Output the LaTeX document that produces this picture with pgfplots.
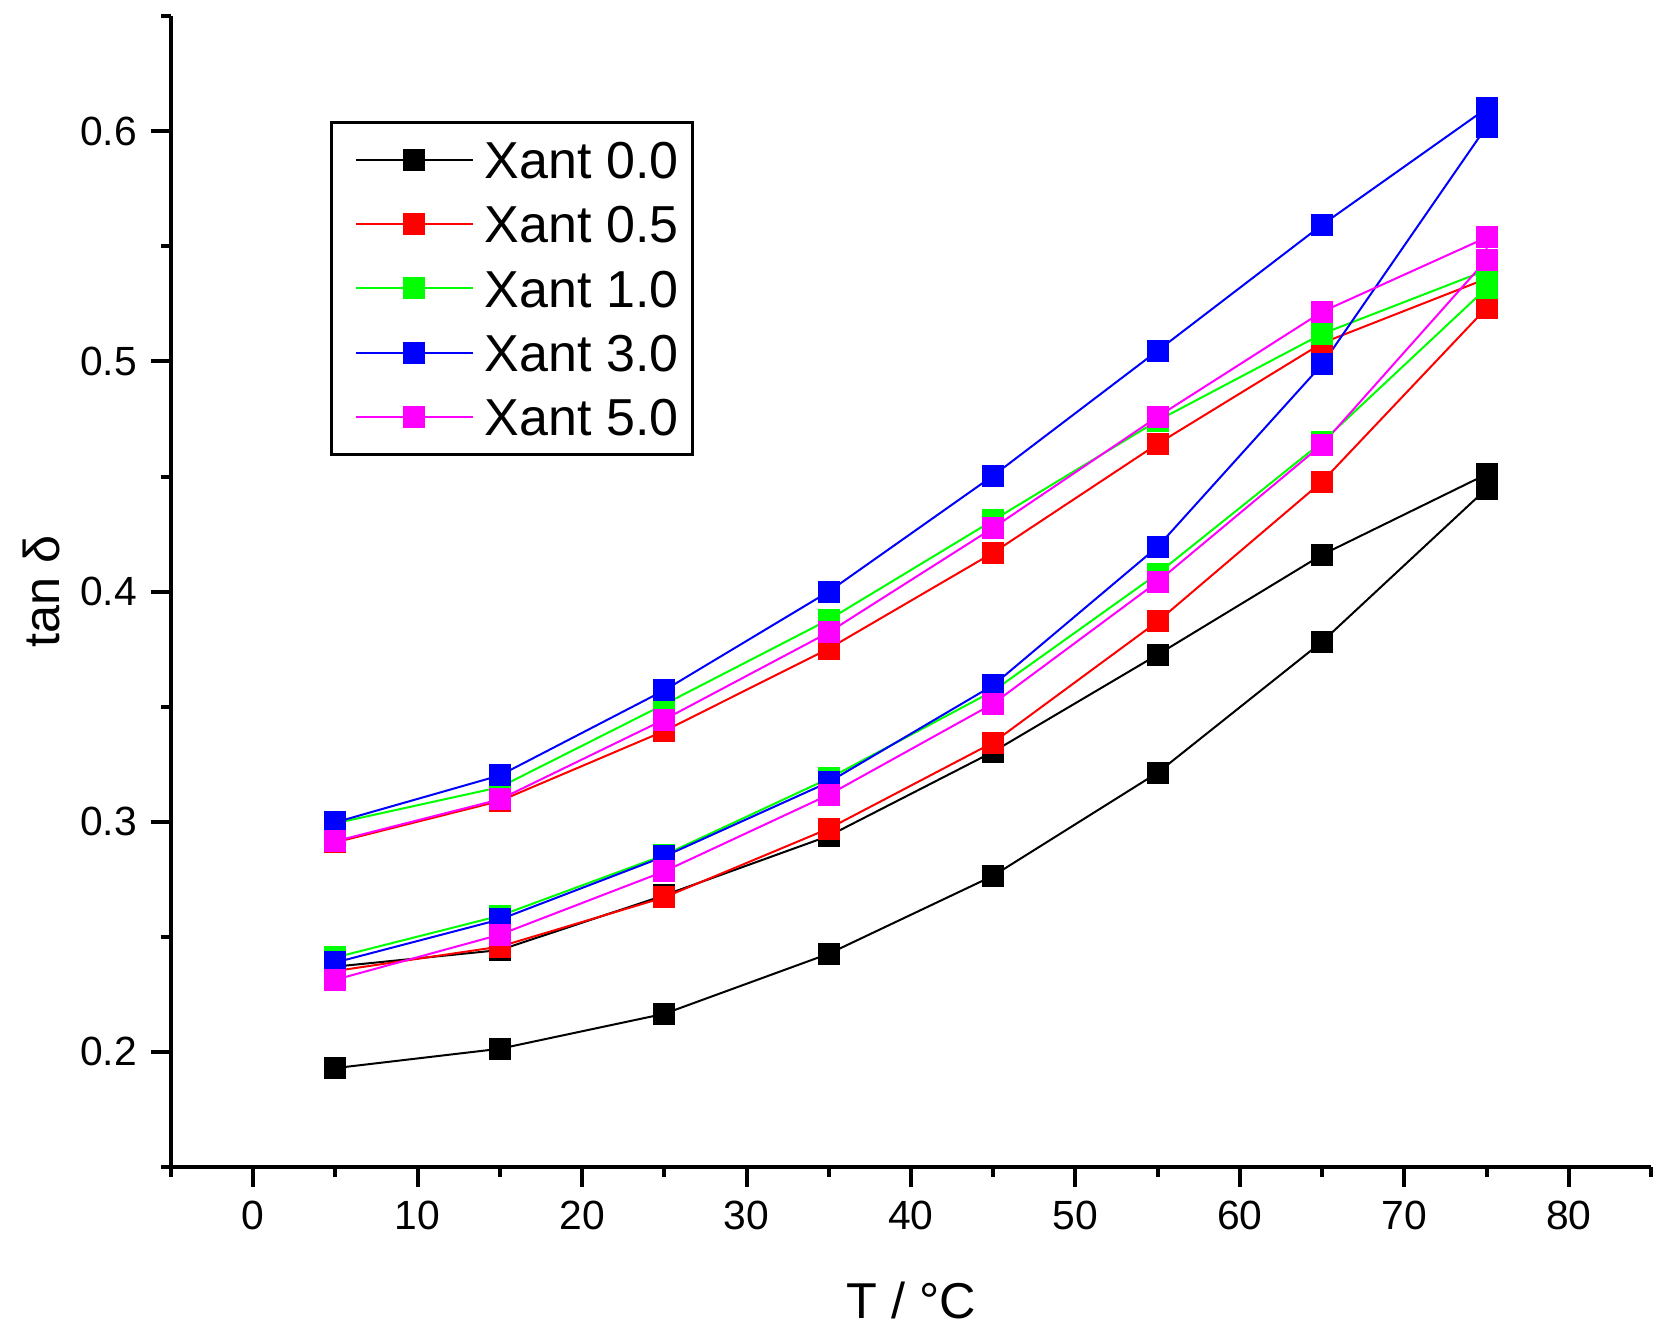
\documentclass[border=0pt]{standalone}
\usepackage{fontspec}
\setmainfont{Liberation Sans}
\usepackage{pgfplots}
\pgfplotsset{compat=1.18}
\definecolor{cgreen}{RGB}{0,255,0}
\definecolor{cmag}{RGB}{255,0,255}
\begin{document}
\begin{tikzpicture}
\begin{axis}[
  name=ax,
  scale only axis,
  width=370pt, height=287.6pt,
  xmin=-5, xmax=85, ymin=0.15, ymax=0.65,
  axis lines*=left,
  axis line style={-, line width=1pt},
  tick align=outside,
  xtick={0,10,...,80},
  ytick={0.2,0.3,0.4,0.5,0.6},
  minor xtick={-5,5,15,25,35,45,55,65,75,85},
  minor ytick={0.15,0.25,0.35,0.45,0.55,0.65},
  major tick length=5pt, minor tick length=2.5pt,
  every tick/.style={line width=1pt, black},
  /pgf/number format/assume math mode=true,
  tick label style={font=\fontsize{10.2}{12}\selectfont},
  yticklabel style={/pgf/number format/fixed, /pgf/number format/precision=1},
  xlabel={T / °C}, ylabel={tan δ},
  label style={font=\fontsize{12.6}{15}\selectfont},
  xlabel style={at={(axis description cs:0.5,-0.1321)}, anchor=base},
  ylabel style={at={(axis description cs:-0.0872,0.5)}, anchor=center, rotate=0},
  legend style={at={(axis description cs:0.1073,0.9092)}, anchor=north west,
    draw=black, line width=0.7pt, font=\fontsize{13}{15}\selectfont,
    inner xsep=1.5pt, inner ysep=4.7pt, row sep=6.8pt,
    nodes={inner xsep=2pt, inner ysep=0pt, text height=9.3pt, text depth=0pt}},
  legend cell align=left,
  legend image code/.code={\path (-4.4pt,0pt) (30pt,0pt); \draw[line width=0.5pt, mark repeat=2, mark phase=2] plot coordinates {(0pt,0pt) (14.6pt,0pt) (29.2pt,0pt)};},
  every axis plot/.append style={line width=0.5pt, mark=square*, mark size=2.5pt, mark options={solid}},
]
\addplot[black] coordinates {(5,0.1929)(15,0.2013)(25,0.2165)(35,0.2426)(45,0.2765)(55,0.3213)(65,0.3782)(75,0.4447)(75,0.451)(65,0.416)(55,0.3726)(45,0.3304)(35,0.2938)(25,0.268)(15,0.2442)(5,0.237)};
\addplot[red] coordinates {(5,0.2351)(15,0.2457)(25,0.2671)(35,0.297)(45,0.3344)(55,0.387)(65,0.4478)(75,0.5233)(75,0.536)(65,0.508)(55,0.4642)(45,0.4169)(35,0.3752)(25,0.3394)(15,0.309)(5,0.291)};
\addplot[cgreen] coordinates {(5,0.241)(15,0.2591)(25,0.2855)(35,0.3188)(45,0.3568)(55,0.4078)(65,0.465)(75,0.5319)(75,0.5397)(65,0.512)(55,0.4743)(45,0.431)(35,0.3878)(25,0.351)(15,0.315)(5,0.2993)};
\addplot[blue] coordinates {(5,0.2388)(15,0.2575)(25,0.2849)(35,0.3172)(45,0.3593)(55,0.4195)(65,0.4987)(75,0.6021)(75,0.61)(65,0.5594)(55,0.5047)(45,0.4504)(35,0.4)(25,0.3571)(15,0.3201)(5,0.2997)};
\addplot[cmag] coordinates {(5,0.2313)(15,0.2509)(25,0.2784)(35,0.3117)(45,0.3513)(55,0.4043)(65,0.4639)(75,0.5442)(75,0.5539)(65,0.5216)(55,0.476)(45,0.4277)(35,0.3823)(25,0.3444)(15,0.3097)(5,0.2915)};
\legend{Xant 0.0, Xant 0.5, Xant 1.0, Xant 3.0, Xant 5.0}
\end{axis}
\pgfresetboundingbox
\path[use as bounding box] ([xshift=-42.75pt,yshift=-41.5pt]ax.south west) rectangle ([xshift=3.5pt,yshift=4.1pt]ax.north east);
\end{tikzpicture}
\end{document}
